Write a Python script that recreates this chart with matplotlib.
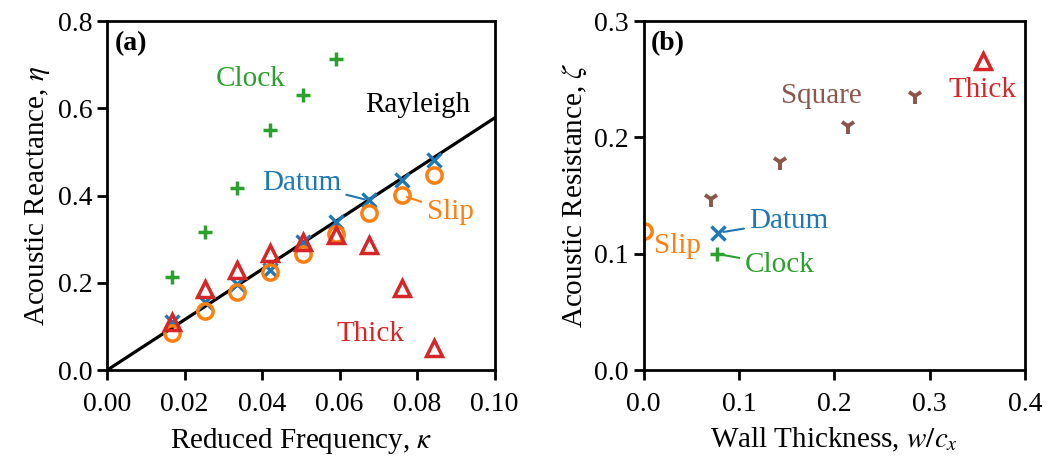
import numpy as np
import matplotlib
matplotlib.use("Agg")
import matplotlib.pyplot as plt

plt.rcParams['font.family'] = ['Liberation Serif', 'DejaVu Serif']
plt.rcParams['mathtext.fontset'] = 'stix'
plt.rcParams['font.size'] = 21

### panel (a): reactance vs reduced frequency
kappa = [0.0168, 0.0253, 0.0336, 0.0421, 0.0506, 0.0591, 0.0675, 0.0760, 0.0844]
eta_datum = [0.111, 0.156, 0.198, 0.229, 0.294, 0.340, 0.389, 0.435, 0.482]
eta_slip = [0.086, 0.135, 0.179, 0.225, 0.267, 0.313, 0.359, 0.401, 0.447]
eta_thick = [0.111, 0.187, 0.229, 0.269, 0.294, 0.309, 0.286, 0.189, 0.050]
kappa_clock = [0.0168, 0.0253, 0.0336, 0.0421, 0.0506, 0.0591]
eta_clock = [0.214, 0.317, 0.418, 0.550, 0.631, 0.712]
rayleigh_k = [0.0, 0.1]
rayleigh_eta = [0.0, 0.578]

### panel (b): resistance vs wall thickness
w_square = [0.071, 0.143, 0.214, 0.285]
zeta_square = [0.147, 0.179, 0.210, 0.236]
w_thick, zeta_thick = 0.356, 0.266
w_datum, zeta_datum = 0.078, 0.118
w_clock, zeta_clock = 0.077, 0.100
w_slip, zeta_slip = 0.0, 0.120

blue, orange, green, red, brown = '#1f77b4', '#ff7f0e', '#2ca02c', '#d62728', '#8c564b'
FS = 21

fig = plt.figure(figsize=(10.62, 4.57), dpi=100)
ax1 = fig.add_axes([0.1008, 0.190, 0.365, 0.764])
ax2 = fig.add_axes([0.606, 0.190, 0.359, 0.764])

for ax in (ax1, ax2):
    for s in ax.spines.values():
        s.set_linewidth(2.0)
    ax.tick_params(direction='out', length=7, width=2, labelsize=20)
    ax.tick_params(axis='x', pad=9)

# (a)
ax1.plot(rayleigh_k, rayleigh_eta, color='k', lw=2.3, zorder=2)
ax1.plot(kappa, eta_datum, 'x', color=blue, ms=10, mew=2.4, zorder=3)
ax1.plot(kappa, eta_slip, 'o', color=orange, mfc='none', ms=11, mew=2.5, zorder=4)
ax1.plot(kappa, eta_thick, '^', color=red, mfc='none', ms=12, mew=2.5, zorder=5)
ax1.plot(kappa_clock, eta_clock, '+', color=green, ms=10, mew=2.5, zorder=3)
ax1.set_xlim(0, 0.1)
ax1.set_ylim(0, 0.8)
ax1.set_xticks(np.arange(0, 0.101, 0.02))
ax1.set_yticks(np.arange(0, 0.81, 0.2))
ax1.set_xlabel(r'Reduced Frequency, $\kappa$', fontsize=FS, labelpad=6)
ax1.set_ylabel(r'Acoustic Reactance, $\eta$', fontsize=FS)
ax1.text(0.02, 0.97, '(a)', transform=ax1.transAxes, fontweight='bold', va='top', ha='left', fontsize=20)
ax1.text(0.0371, 0.668, 'Clock', color=green, ha='center', va='center', fontsize=FS)
ax1.text(0.0802, 0.607, 'Rayleigh', color='k', ha='center', va='center', fontsize=FS)
ax1.annotate('Datum', xy=(0.0675, 0.389), xytext=(0.0501, 0.428), color=blue,
             ha='center', va='center', fontsize=FS,
             arrowprops=dict(arrowstyle='-', color=blue, lw=1.5, shrinkA=2, shrinkB=3))
ax1.annotate('Slip', xy=(0.0760, 0.401), xytext=(0.0885, 0.363), color=orange,
             ha='center', va='center', fontsize=FS,
             arrowprops=dict(arrowstyle='-', color=orange, lw=1.5, shrinkA=2, shrinkB=4))
ax1.text(0.0680, 0.084, 'Thick', color=red, ha='center', va='center', fontsize=FS)

# (b)
ax2.plot(w_square, zeta_square, '1', color=brown, ms=11, mew=2.8)
ax2.plot([w_thick], [zeta_thick], '^', color=red, mfc='none', ms=12, mew=2.5)
ax2.plot([w_datum], [zeta_datum], 'x', color=blue, ms=10, mew=2.5)
ax2.plot([w_clock], [zeta_clock], '+', color=green, ms=10, mew=2.5)
ax2.plot([w_slip], [zeta_slip], 'o', color=orange, mfc='none', ms=11, mew=2.5)
ax2.set_xlim(0, 0.4)
ax2.set_ylim(0, 0.3)
ax2.set_xticks(np.arange(0, 0.41, 0.1))
ax2.set_yticks(np.arange(0, 0.31, 0.1))
ax2.set_xlabel(r'Wall Thickness, $w/c_x$', fontsize=FS, labelpad=6)
ax2.set_ylabel(r'Acoustic Resistance, $\zeta$', fontsize=FS)
ax2.text(0.02, 0.97, '(b)', transform=ax2.transAxes, fontweight='bold', va='top', ha='left', fontsize=20)
ax2.text(0.1865, 0.236, 'Square', color=brown, ha='center', va='center', fontsize=FS)
ax2.text(0.356, 0.241, 'Thick', color=red, ha='center', va='center', fontsize=FS)
ax2.text(0.0353, 0.107, 'Slip', color=orange, ha='center', va='center', fontsize=FS)
ax2.annotate('Datum', xy=(w_datum, zeta_datum), xytext=(0.1526, 0.128), color=blue,
             ha='center', va='center', fontsize=FS,
             arrowprops=dict(arrowstyle='-', color=blue, lw=1.5, shrinkA=2, shrinkB=4))
ax2.annotate('Clock', xy=(w_clock, zeta_clock), xytext=(0.1428, 0.090), color=green,
             ha='center', va='center', fontsize=FS,
             arrowprops=dict(arrowstyle='-', color=green, lw=1.5, shrinkA=2, shrinkB=4))

fig.savefig('out.png', dpi=100)
